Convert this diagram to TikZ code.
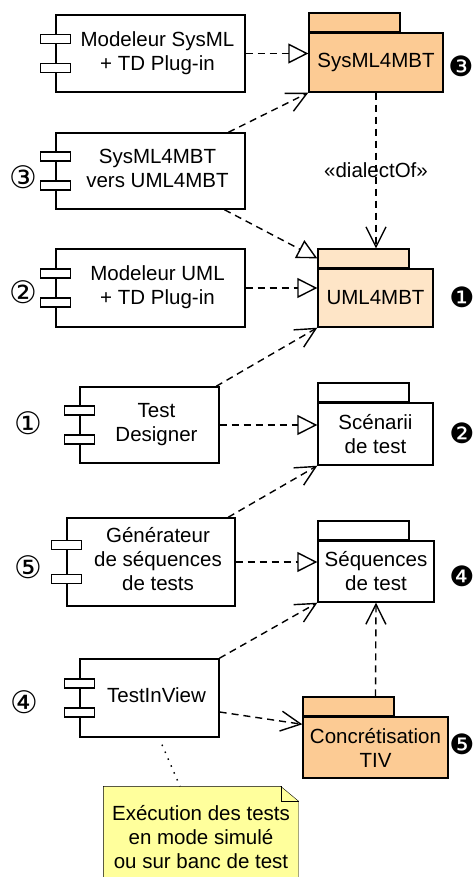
\documentclass[tikz,border=0pt]{standalone}
\usepackage{fontspec}
\setmainfont{Liberation Sans}
\newfontfamily\numfont{DejaVu Sans}
\usepackage{tikz}
\usetikzlibrary{arrows.meta,backgrounds}
\definecolor{pkgorange}{HTML}{FCCB94}
\definecolor{pkglight}{HTML}{FEE5C7}
\definecolor{noteyellow}{HTML}{FFFF9C}
\newcommand\comptext[1]{\hspace*{14pt}\begin{tabular}{@{}c@{}}#1\end{tabular}}

\tikzset{
  comp/.style={draw,fill=white,inner sep=0pt},
  pkg/.style={draw,inner sep=0pt,align=center},
  pkgtab/.style={draw,inner sep=0pt,minimum width=91pt,minimum height=18.5pt,anchor=south west},
  num/.style={inner sep=0pt,font=\numfont\fontsize{31}{31}\selectfont},
  numb/.style={inner sep=0pt,font=\numfont\fontsize{28}{28}\selectfont},
  realize/.style={dash pattern=on 7pt off 5pt,-{Triangle[open,length=20pt,width=20pt]}},
  depend/.style={dash pattern=on 7pt off 5pt,-{Straight Barb[length=20pt,width=20pt]}},
}

\begin{document}
\begin{tikzpicture}[x=1pt,y=-1pt,line width=1.4pt,font=\fontsize{20.5}{24}\selectfont]
\useasboundingbox (0,0) rectangle (473,877);
\node[comp,minimum width=189pt,minimum height=77pt] (msys) at (150.5,53.5) {\comptext{Modeleur SysML\\+ TD Plug-in}};
\node[comp,minimum width=189pt,minimum height=76pt] (conv) at (150.5,171) {\comptext{SysML4MBT\\vers UML4MBT}};
\node[comp,minimum width=189pt,minimum height=78pt] (muml) at (150.5,288) {\comptext{Modeleur UML\\+ TD Plug-in}};
\node[comp,minimum width=139pt,minimum height=76pt] (td) at (149.5,425) {\comptext{Test\\Designer}};
\node[comp,minimum width=168pt,minimum height=88pt] (gen) at (151,562) {\comptext{Générateur\\de séquences\\de tests}};
\node[comp,minimum width=139pt,minimum height=78pt] (tiv) at (149.5,698) {\comptext{TestInView}};
\foreach \n/\d in {msys/14.5,conv/14.5,muml/14.5,td/14.5,gen/17,tiv/14.5}
  \foreach \s in {-1,1}
    \draw[fill=white] ([shift={(-15,\s*\d-4.5)}]\n.west) rectangle ++(30,9);

\node[pkg,fill=pkgorange,minimum width=134pt,minimum height=59pt] (sysp) at (376,62.5) {SysML4MBT};
\node[pkg,fill=pkglight,minimum width=115pt,minimum height=58pt] (umlp) at (375.5,298) {UML4MBT};
\node[pkg,fill=white,minimum width=115pt,minimum height=62pt] (scen) at (375.5,434) {Scénarii\\de test};
\node[pkg,fill=white,minimum width=116pt,minimum height=61pt] (sequ) at (376,571.5) {Séquences\\de test};
\node[pkg,fill=pkgorange,minimum width=145pt,minimum height=61pt] (conc) at (375.5,747.5) {Concrétisation\\TIV};
\node[pkgtab,fill=pkgorange] (syspt) at (sysp.north west) {};
\node[pkgtab,fill=pkglight] (umlpt) at (umlp.north west) {};
\node[pkgtab,fill=white] (scent) at (scen.north west) {};
\node[pkgtab,fill=white] (sequt) at (sequ.north west) {};
\node[pkgtab,fill=pkgorange] (conct) at (conc.north west) {};

\node[num] (c3) at (23,177) {③};
\node[num] (c2) at (23.5,292) {②};
\node[num] (c1) at (28,423) {①};
\node[num] (c5) at (28,567) {⑤};
\node[num] (c4) at (24,702) {④};
\node[numb] (d3) at (461,66) {❸};
\node[numb] (d1) at (462,297) {❶};
\node[numb] (d2) at (462,433) {❷};
\node[numb] (d4) at (462,576) {❹};
\node[numb] (d5) at (462,744) {❺};

\draw[realize] (msys.east) -- (msys.east -| sysp.west);
\draw[depend] (conv) -- (sysp.south west);
\draw[realize] (conv) -- (umlpt.west);
\draw[depend] (sysp.south) -- (sysp.south |- umlpt.north) node[midway,fill=none]{«dialectOf»};
\draw[realize] (muml.east) -- (muml.east -| umlp.west);
\draw[depend] (td) -- (umlp.south west);
\draw[realize] (td.east) -- (td.east -| scen.west);
\draw[depend] (gen) -- (scen.south west);
\draw[realize] (gen.east) -- (gen.east -| sequ.west);
\draw[depend] (tiv) -- (sequ.south west);
\draw[depend] ([yshift=-14pt]tiv.east) -- ([yshift=-8pt]conc.north west);
\draw[depend] (conct.north -| conc.north) -- (sequ.south);

\node[inner sep=0pt,align=center,minimum width=194pt,minimum height=100pt] (note) at (201,837)
  {Exécution des tests\\en mode simulé\\ou sur banc de test};
\begin{scope}[on background layer]
\draw[fill=noteyellow] (note.north west) -- ([xshift=-18pt]note.north east)
  -- ([yshift=-15pt]note.north east) -- (note.south east) -- (note.south west) -- cycle;
\draw ([xshift=-18pt]note.north east) -- ([xshift=-18pt,yshift=-15pt]note.north east)
  -- ([yshift=-15pt]note.north east);
\end{scope}
\draw[dash pattern=on 1.5pt off 6pt] ([shift={(12.5,7)}]tiv.south) -- ([xshift=-21pt]note.north);
\end{tikzpicture}
\end{document}
